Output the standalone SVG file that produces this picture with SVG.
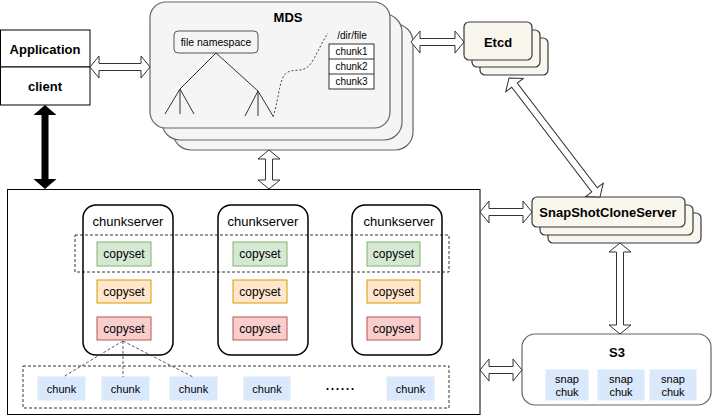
<svg xmlns="http://www.w3.org/2000/svg" width="720" height="416" viewBox="0 0 720 416">
<style>
text{font-family:"Liberation Sans",Arial,sans-serif;text-anchor:middle;dominant-baseline:central;fill:#000}
.b{font-weight:bold;font-size:13px}
.mds{fill:#f5f5f5;stroke:#666666;stroke-width:1.2}
.cream{fill:#f9f7ed;stroke:#36393d;stroke-width:1.2}
.harrow{fill:#ffffff;stroke:#333333;stroke-width:1}
.cs{fill:none;stroke:#000;stroke-width:1.5}
.g{fill:#d5e8d4;stroke:#82b366}
.o{fill:#ffe6cc;stroke:#d79b00}
.r{fill:#f8cecc;stroke:#b85450}
.bl{fill:#dae8fc;stroke:#dae8fc}
.dash{fill:none;stroke:#000;stroke-width:0.8;stroke-dasharray:3 2}
.t12{font-size:12px}
.t11{font-size:11px}
.t10{font-size:10px}
</style>
<rect width="720" height="416" fill="#ffffff"/>

<g id="application">
<rect x="0.5" y="30" width="89.5" height="37" fill="#fff" stroke="#000"/>
<text x="45" y="49" class="b">Application</text>
</g>
<g id="client">
<rect x="0.5" y="67" width="89.5" height="38" fill="#fff" stroke="#000"/>
<text x="45" y="86" class="b">client</text>
</g>

<g id="mds">
<rect x="173" y="24" width="240" height="126" rx="18" class="mds"/>
<rect x="162" y="14" width="240" height="126" rx="18" class="mds"/>
<rect x="150" y="2" width="240" height="126" rx="16" class="mds"/>
<text x="288" y="17" class="b">MDS</text>
<rect x="174" y="31" width="84" height="22" rx="4" fill="#f5f5f5" stroke="#555"/>
<text x="216" y="42" style="font-size:10.5px">file namespace</text>
<g fill="none" stroke="#333" stroke-width="1">
<path d="M216,53 L180,89 M216,53 L258,91"/>
<path d="M180,89 L165,114 M180,89 L180,114 M180,89 L194,114"/>
<path d="M258,91 L245,116 M258,91 L258,116 M258,91 L273,116"/>
</g>
<path d="M273,117 C280,95 279,76 288,72 C296,68 304,74 312,62 C318,52 322,42 328,33" fill="none" stroke="#333" stroke-width="0.9" stroke-dasharray="2 2"/>
<text x="352" y="35" class="t10">/dir/file</text>
<rect x="329" y="44" width="45" height="45" fill="#fff" stroke="#000" stroke-width="0.8"/>
<path d="M329,59 H374 M329,74 H374" stroke="#000" stroke-width="0.8"/>
<text x="351.5" y="51.5" class="t10">chunk1</text>
<text x="351.5" y="66.5" class="t10">chunk2</text>
<text x="351.5" y="81.5" class="t10">chunk3</text>
</g>

<g id="etcd">
<rect x="480" y="38" width="68" height="37" rx="5" class="cream"/>
<rect x="472" y="30" width="68" height="37" rx="5" class="cream"/>
<rect x="464" y="22" width="68" height="38" rx="5" class="cream"/>
<text x="498" y="42" class="b">Etcd</text>
</g>

<g id="snapshotcloneserver">
<rect x="548" y="213" width="153" height="30" rx="5" class="cream"/>
<rect x="540" y="205" width="153" height="30" rx="5" class="cream"/>
<rect x="532" y="197" width="153" height="30" rx="5" class="cream"/>
<text x="608" y="212" class="b">SnapShotCloneServer</text>
</g>

<g id="s3">
<rect x="522" y="334" width="189" height="71" rx="13" fill="#fff" stroke="#666" stroke-width="1.2"/>
<text x="617" y="352" class="b">S3</text>
<rect x="546" y="370" width="42" height="30" class="bl"/>
<rect x="598" y="370" width="46" height="30" class="bl"/>
<rect x="650" y="370" width="46" height="30" class="bl"/>
<text x="567" y="379" class="t11">snap</text><text x="567" y="392" class="t11">chuk</text>
<text x="621" y="379" class="t11">snap</text><text x="621" y="392" class="t11">chuk</text>
<text x="673" y="379" class="t11">snap</text><text x="673" y="392" class="t11">chuk</text>
</g>

<g id="chunk-cluster">
<rect x="7.5" y="189.5" width="472.5" height="225" fill="#fff" stroke="#000" stroke-width="1"/>
</g>

<g id="chunkserver1">
<rect x="83" y="205" width="90" height="150" rx="13" class="cs"/>
<text x="128" y="221" style="font-size:13px">chunkserver</text>
<rect x="97" y="242" width="54" height="24" class="g"/><text x="124" y="254" class="t12">copyset</text>
<rect x="97" y="280" width="54" height="23" class="o"/><text x="124" y="291.5" class="t12">copyset</text>
<rect x="97" y="317" width="54" height="23" class="r"/><text x="124" y="328.5" class="t12">copyset</text>
</g>
<g id="chunkserver2">
<rect x="218" y="205" width="90" height="150" rx="13" class="cs"/>
<text x="263" y="221" style="font-size:13px">chunkserver</text>
<rect x="233" y="242" width="54" height="24" class="g"/><text x="260" y="254" class="t12">copyset</text>
<rect x="233" y="280" width="54" height="23" class="o"/><text x="260" y="291.5" class="t12">copyset</text>
<rect x="233" y="317" width="54" height="23" class="r"/><text x="260" y="328.5" class="t12">copyset</text>
</g>
<g id="chunkserver3">
<rect x="352" y="205" width="90" height="150" rx="13" class="cs"/>
<text x="399" y="221" style="font-size:13px">chunkserver</text>
<rect x="367" y="242" width="53" height="24" class="g"/><text x="393.5" y="254" class="t12">copyset</text>
<rect x="367" y="280" width="53" height="23" class="o"/><text x="393.5" y="291.5" class="t12">copyset</text>
<rect x="367" y="317" width="53" height="23" class="r"/><text x="393.5" y="328.5" class="t12">copyset</text>
</g>

<g id="copyset-group">
<rect x="75" y="235" width="374" height="37" class="dash"/>
</g>

<g id="chunks">
<rect x="23" y="366" width="426" height="42" class="dash"/>
<rect x="38" y="377" width="47" height="23" class="bl"/><text x="61.5" y="388.5" class="t11">chunk</text>
<rect x="102" y="377" width="47" height="23" class="bl"/><text x="125.5" y="388.5" class="t11">chunk</text>
<rect x="170" y="377" width="47" height="23" class="bl"/><text x="193.5" y="388.5" class="t11">chunk</text>
<rect x="244" y="377" width="46" height="23" class="bl"/><text x="267" y="388.5" class="t11">chunk</text>
<text x="340" y="383.5" style="font-size:18px">......</text>
<rect x="387" y="377" width="47" height="23" class="bl"/><text x="410.5" y="388.5" class="t11">chunk</text>
</g>

<g id="connectors">
<path d="M123,341 L63,377 M123,341 L123,377 M123,341 L193,377" fill="none" stroke="#333" stroke-width="0.8" stroke-dasharray="3 2"/>
<polygon points="45,105 56.5,115 48.5,115 48.5,179 56.5,179 45,189 33.5,179 41.5,179 41.5,115 33.5,115" fill="#000"/>
<g transform="translate(90,67)"><polygon class="harrow" points="0,0 9,-11 9,-3.5 51,-3.5 51,-11 60,0 51,11 51,3.5 9,3.5 9,11"/></g>
<g transform="translate(411,42)"><polygon class="harrow" points="0,0 9,-11 9,-3.5 44,-3.5 44,-11 53,0 44,11 44,3.5 9,3.5 9,11"/></g>
<g transform="translate(269,150) rotate(90)"><polygon class="harrow" points="0,0 9,-11 9,-3.5 30,-3.5 30,-11 39,0 30,11 30,3.5 9,3.5 9,11"/></g>
<g transform="translate(509,78) rotate(52.6)"><polygon class="harrow" points="0,0 9,-11 9,-3.5 140.8,-3.5 140.8,-11 149.8,0 140.8,11 140.8,3.5 9,3.5 9,11"/></g>
<g transform="translate(480,212)"><polygon class="harrow" points="0,0 9,-11 9,-3.5 43,-3.5 43,-11 52,0 43,11 43,3.5 9,3.5 9,11"/></g>
<g transform="translate(480,370)"><polygon class="harrow" points="0,0 9,-11 9,-3.5 33,-3.5 33,-11 42,0 33,11 33,3.5 9,3.5 9,11"/></g>
<g transform="translate(620,243) rotate(90)"><polygon class="harrow" points="0,0 9,-11 9,-3.5 82,-3.5 82,-11 91,0 82,11 82,3.5 9,3.5 9,11"/></g>
</g>
</svg>
